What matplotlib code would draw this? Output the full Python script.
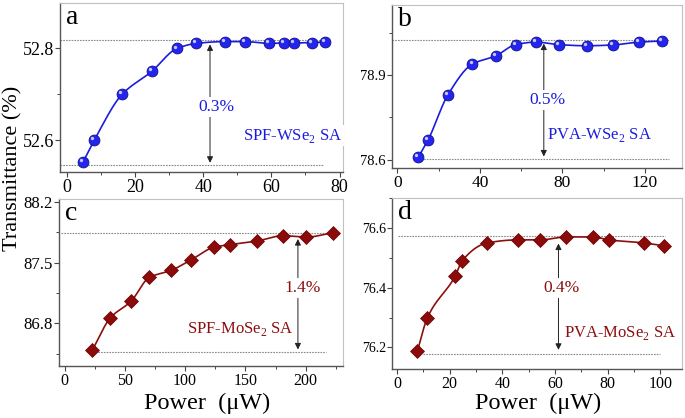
import numpy as np
import matplotlib
matplotlib.use('Agg')
import matplotlib.pyplot as plt
from matplotlib.ticker import MultipleLocator
from matplotlib.transforms import ScaledTranslation

plt.rcParams['font.family'] = ['Liberation Serif', 'DejaVu Serif']
plt.rcParams['mathtext.fontset'] = 'custom'
plt.rcParams['mathtext.rm'] = 'Liberation Serif'

# panel a: SPF-WSe2
pa_x = [4.7, 8.1, 16.2, 24.9, 32.3, 38.0, 46.3, 52.3, 59.3, 63.7, 66.6, 72.0, 75.8]
pa_y = [52.552, 52.601, 52.700, 52.750, 52.800, 52.811, 52.815, 52.815, 52.811, 52.812, 52.812, 52.813, 52.814]
# panel b: PVA-WSe2
pb_x = [10.2, 14.9, 24.4, 36.4, 47.7, 57.3, 67.2, 78.5, 91.7, 104.7, 117.0, 128.5]
pb_y = [78.609, 78.670, 78.829, 78.940, 78.969, 79.009, 79.018, 79.009, 79.005, 79.008, 79.018, 79.022]
# panel c: SPF-MoSe2
pc_x = [23.1, 37.9, 55.2, 70.2, 88.3, 104.7, 124.2, 137.0, 159.9, 181.3, 200.6, 222.6]
pc_y = [86.496, 86.863, 87.056, 87.328, 87.409, 87.528, 87.677, 87.705, 87.748, 87.808, 87.792, 87.843]
# panel d: PVA-MoSe2
pd_x = [7.7, 11.5, 22.1, 24.7, 34.3, 45.8, 54.4, 64.2, 74.6, 80.3, 93.7, 101.3]
pd_y = [76.187, 76.299, 76.439, 76.490, 76.550, 76.560, 76.560, 76.570, 76.570, 76.560, 76.550, 76.540]

blue = '#1c1ce0'
red = '#8b0f0f'


def pchip(x, y, n=300):
    # shape preserving cubic, only used to draw the smooth connecting line
    x = np.asarray(x, float)
    y = np.asarray(y, float)
    h = np.diff(x)
    d = np.diff(y) / h
    m = np.zeros_like(y)
    for k in range(1, len(x) - 1):
        if d[k - 1] * d[k] > 0:
            w1 = 2 * h[k] + h[k - 1]
            w2 = h[k] + 2 * h[k - 1]
            m[k] = (w1 + w2) / (w1 / d[k - 1] + w2 / d[k])
    m[0] = d[0]
    m[-1] = d[-1]
    xs = np.linspace(x[0], x[-1], n)
    idx = np.clip(np.searchsorted(x, xs) - 1, 0, len(x) - 2)
    t = (xs - x[idx]) / h[idx]
    h00 = 2 * t**3 - 3 * t**2 + 1
    h10 = t**3 - 2 * t**2 + t
    h01 = -2 * t**3 + 3 * t**2
    h11 = t**3 - t**2
    ys = h00 * y[idx] + h10 * h[idx] * m[idx] + h01 * y[idx + 1] + h11 * h[idx] * m[idx + 1]
    return xs, ys


fig = plt.figure(figsize=(6.85, 4.18), dpi=100)

panels = [
    dict(rect=[0.0876, 0.5885, 0.4131, 0.4043], x=pa_x, y=pa_y, color=blue, marker='o',
         xlim=(-2, 81), ylim=(52.531, 52.899), xmaj=20, xmin=10, ymaj=0.2, ymin=0.1,
         xfs=13, yfs=13, letter='a',
         top=52.818, top_x=(-2, 77), bot=52.547, bot_x=(-2, 75),
         arr_x=42.0, arr=(52.809, 52.551), pct='0.3%', pct_xy=(44.0, 52.672),
         lab='SPF-WSe$_2$ SA', lab_xy=(66.3, 52.61)),
    dict(rect=[0.5723, 0.598, 0.4233, 0.390], x=pb_x, y=pb_y, color=blue, marker='o',
         xlim=(-2.6, 138), ylim=(78.57, 79.15), xmaj=40, xmin=20, ymaj=0.3, ymin=0.15,
         xfs=12.5, yfs=10.5, letter='b',
         top=79.026, top_x=(-2.6, 131.5), bot=78.602, bot_x=(10, 131.5),
         arr_x=71.0, arr=(79.013, 78.611), pct='0.5%', pct_xy=(73.0, 78.811),
         lab='PVA-WSe$_2$ SA', lab_xy=(98.0, 78.686)),
    dict(rect=[0.0861, 0.1244, 0.4146, 0.3995], x=pc_x, y=pc_y, color=red, marker='D',
         xlim=(-4.7, 231), ylim=(86.31, 88.23), xmaj=50, xmin=25, ymaj=0.7, ymin=0.35,
         xfs=11.5, yfs=12, letter='c',
         top=87.839, top_x=(-2.8, 221.5), bot=86.466, bot_x=(25, 217),
         arr_x=193.6, arr=(87.77, 86.50), pct='1.4%', pct_xy=(197.8, 87.205),
         lab='SPF-MoSe$_2$ SA', lab_xy=(146.0, 86.74)),
    dict(rect=[0.5723, 0.1172, 0.4233, 0.409], x=pd_x, y=pd_y, color=red, marker='D',
         xlim=(-1.9, 108.2), ylim=(76.128, 76.70), xmaj=20, xmin=10, ymaj=0.2, ymin=0.1,
         xfs=11.5, yfs=10, letter='d',
         top=76.572, top_x=(0.4, 101.9), bot=76.179, bot_x=(9.9, 100),
         arr_x=61.3, arr=(76.548, 76.192), pct='0.4%', pct_xy=(62.6, 76.40),
         lab='PVA-MoSe$_2$ SA', lab_xy=(84.8, 76.25)),
]

for p in panels:
    ax = fig.add_axes(p['rect'])
    xs, ys = pchip(p['x'], p['y'])
    ax.plot(xs, ys, color=p['color'], lw=1.2, zorder=3)
    if p['marker'] == 'o':
        ax.plot(p['x'], p['y'], 'o', ms=7.8, mfc='#2424f0', mec='#10108a', mew=0.6, zorder=4)
        hl = ax.transData + ScaledTranslation(-1.4 / 72, 1.4 / 72, fig.dpi_scale_trans)
        ax.plot(p['x'], p['y'], 'o', ms=2.4, mfc='#c8c8ff', mec='none', transform=hl, zorder=5)
    else:
        ax.plot(p['x'], p['y'], 'D', ms=7, mfc='#8b0a0a', mec='#6a0000', mew=0.5, zorder=4)

    ax.plot(p['top_x'], [p['top'], p['top']], color='#8a8a8a', lw=0.8, ls=(0, (1.5, 1)), zorder=2)
    ax.plot(p['bot_x'], [p['bot'], p['bot']], color='#8a8a8a', lw=0.8, ls=(0, (1.5, 1)), zorder=2)

    ax.annotate('', xy=(p['arr_x'], p['arr'][0]), xytext=(p['arr_x'], p['arr'][1]),
                arrowprops=dict(arrowstyle='<|-|>', color='#222222', lw=0.7,
                                mutation_scale=9, shrinkA=0, shrinkB=0), zorder=2)
    ax.text(*p['pct_xy'], p['pct'], color=p['color'], fontsize=12.5, ha='center', va='center',
            bbox=dict(fc='white', ec='none', pad=1.5), zorder=3)
    ax.text(*p['lab_xy'], p['lab'], color=p['color'], fontsize=12, ha='center', va='center',
            bbox=dict(fc='white', ec='none', pad=1.0), zorder=3)
    ax.text(0.02, 0.99, p['letter'], transform=ax.transAxes, fontsize=20, ha='left', va='top')

    ax.set_xlim(*p['xlim'])
    ax.set_ylim(*p['ylim'])
    ax.xaxis.set_major_locator(MultipleLocator(p['xmaj']))
    ax.xaxis.set_minor_locator(MultipleLocator(p['xmin']))
    ax.yaxis.set_major_locator(MultipleLocator(p['ymaj']))
    ax.yaxis.set_minor_locator(MultipleLocator(p['ymin']))
    ax.tick_params(axis='x', which='major', labelsize=p['xfs'], direction='out', length=3.5, width=0.8, color='#444444', pad=1.5)
    ax.tick_params(axis='y', which='major', labelsize=p['yfs'], direction='out', length=3.5, width=0.8, color='#444444', pad=1)
    ax.tick_params(which='minor', direction='out', length=2.5, width=0.7, color='#444444')
    for s in ['left', 'bottom']:
        ax.spines[s].set_color('#555555')
        ax.spines[s].set_linewidth(1.0)
    for s in ['top', 'right']:
        ax.spines[s].set_color('#c0c0c0')
        ax.spines[s].set_linewidth(0.8)

fig.text(0.019, 0.598, 'Transmittance (%)', rotation=90, fontsize=16, ha='center', va='center')
fig.text(0.302, 0.036, 'Power  (\u03bcW)', fontsize=17.5, ha='center', va='center')
fig.text(0.785, 0.036, 'Power  (\u03bcW)', fontsize=17.5, ha='center', va='center')

fig.savefig('out.png', dpi=100)
